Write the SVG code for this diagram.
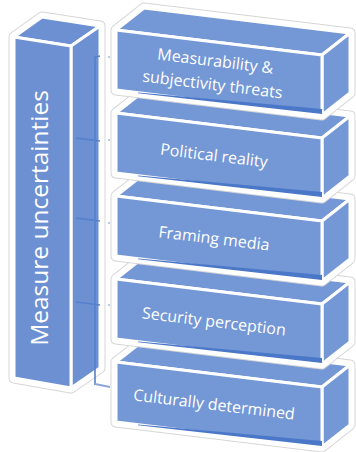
<svg xmlns="http://www.w3.org/2000/svg" width="356" height="452" viewBox="0 0 356 452">
<defs>
<style>
.halo{fill:#fff;stroke:#d6d6d6;stroke-width:11;stroke-linejoin:round}
.halo2{fill:#fff;stroke:#fff;stroke-width:9;stroke-linejoin:round}
.face{fill:#7497d6;stroke:#fff;stroke-width:3;stroke-linejoin:round}
.lface{fill:#6d90d3;stroke:#fff;stroke-width:3;stroke-linejoin:round}
.strip{fill:#4a77c8}
.lbl{font-family:"Open Sans","Noto Sans",sans-serif;font-size:16px;fill:#fff;text-anchor:middle}
.big{font-family:"Open Sans","Noto Sans",sans-serif;font-size:24.5px;fill:#fff;text-anchor:middle}
.con{stroke:#5580cd;stroke-width:1.6;fill:none}
</style>
</defs>
<rect width="356" height="452" fill="#fff"/>
<g id="measure-uncertainties">
<polygon class="halo" points="14,37 42,17 100,26 100,368 71,388 14,378"/>
<polygon class="halo2" points="14,37 42,17 100,26 100,368 71,388 14,378"/>
<polygon class="lface" points="14,37 42,17 100,26 71,46"/>
<polygon class="lface" points="71,46 100,26 100,368 71,388"/>
<polygon class="lface" points="14,37 71,46 71,388 14,378"/>
<text class="big" transform="translate(48,218) rotate(-90)">Measure uncertainties</text>
</g>
<g id="connectors">
<path class="con" d="M95,57 L95,385 M95,57 L100,56 M76,138 L100,141 M76,218 L100,221 M76,302 L100,305"/>
<path stroke="#8aa6dc" stroke-width="2" fill="none" d="M95,384 L110,387"/>
<g fill="#9ab2e0"><circle cx="109" cy="57" r="0.9"/><circle cx="109" cy="140" r="0.9"/><circle cx="109" cy="223" r="0.9"/><circle cx="109" cy="305" r="0.9"/></g>
</g>
<g id="culturally-determined" transform="translate(0,362)">
<polygon class="halo" points="116,0 144,-22 350,3 350,63 322,85 116,60"/>
<polygon class="halo2" points="116,0 144,-22 350,3 350,63 322,85 116,60"/>
<polygon class="face" points="116,0 144,-22 350,3 322,25"/>
<polygon class="face" points="322,25 350,3 350,63 322,85"/>
<polygon class="face" points="116,0 322,25 322,85 116,60"/>
<polygon class="strip" points="138,62.6 322,79 322,84 138,63.2"/>
<g transform="translate(214,42.5) rotate(6.9)"><text class="lbl" y="5.5">Culturally determined</text></g>
</g>
<g id="security-perception" transform="translate(0,279)">
<polygon class="halo" points="116,0 144,-22 350,3 350,63 322,85 116,60"/>
<polygon class="halo2" points="116,0 144,-22 350,3 350,63 322,85 116,60"/>
<polygon class="face" points="116,0 144,-22 350,3 322,25"/>
<polygon class="face" points="322,25 350,3 350,63 322,85"/>
<polygon class="face" points="116,0 322,25 322,85 116,60"/>
<polygon class="strip" points="138,62.6 322,79 322,84 138,63.2"/>
<g transform="translate(214,42.5) rotate(6.9)"><text class="lbl" y="5.5">Security perception</text></g>
</g>
<g id="framing-media" transform="translate(0,196)">
<polygon class="halo" points="116,0 144,-22 350,3 350,63 322,85 116,60"/>
<polygon class="halo2" points="116,0 144,-22 350,3 350,63 322,85 116,60"/>
<polygon class="face" points="116,0 144,-22 350,3 322,25"/>
<polygon class="face" points="322,25 350,3 350,63 322,85"/>
<polygon class="face" points="116,0 322,25 322,85 116,60"/>
<polygon class="strip" points="138,62.6 322,79 322,84 138,63.2"/>
<g transform="translate(214,42.5) rotate(6.9)"><text class="lbl" y="5.5">Framing media</text></g>
</g>
<g id="political-reality" transform="translate(0,113)">
<polygon class="halo" points="116,0 144,-22 350,3 350,63 322,85 116,60"/>
<polygon class="halo2" points="116,0 144,-22 350,3 350,63 322,85 116,60"/>
<polygon class="face" points="116,0 144,-22 350,3 322,25"/>
<polygon class="face" points="322,25 350,3 350,63 322,85"/>
<polygon class="face" points="116,0 322,25 322,85 116,60"/>
<polygon class="strip" points="138,62.6 322,79 322,84 138,63.2"/>
<g transform="translate(214,42.5) rotate(6.9)"><text class="lbl" y="5.5">Political reality</text></g>
</g>
<g id="measurability" transform="translate(0,30)">
<polygon class="halo" points="116,0 144,-22 350,3 350,63 322,85 116,60"/>
<polygon class="halo2" points="116,0 144,-22 350,3 350,63 322,85 116,60"/>
<polygon class="face" points="116,0 144,-22 350,3 322,25"/>
<polygon class="face" points="322,25 350,3 350,63 322,85"/>
<polygon class="face" points="116,0 322,25 322,85 116,60"/>
<polygon class="strip" points="138,62.6 322,79 322,84 138,63.2"/>
<g transform="translate(214,42.5) rotate(6.9)"><text class="lbl" y="-6">Measurability &amp;</text><text class="lbl" y="17.5">subjectivity threats</text></g>
</g>
</svg>
